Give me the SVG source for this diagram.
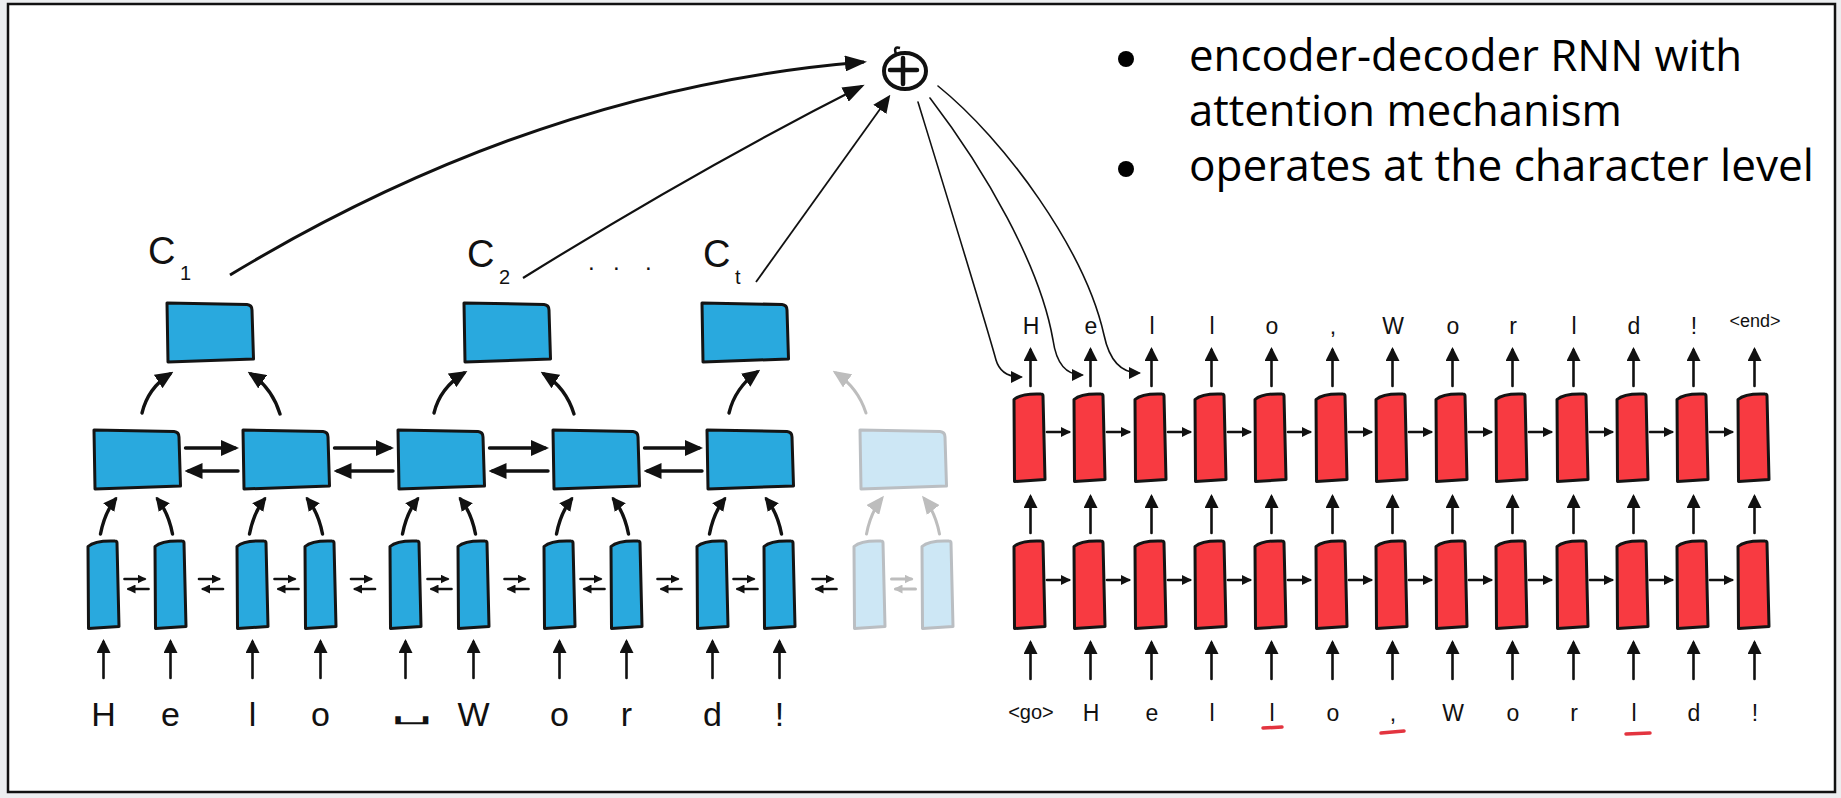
<svg xmlns="http://www.w3.org/2000/svg" width="1841" height="798" viewBox="0 0 1841 798">
<style>
.enc{fill:#29a9de;stroke:#141414;stroke-width:3;stroke-linejoin:round}
.dec{fill:#f83a41;stroke:#141414;stroke-width:3;stroke-linejoin:round}
.fade{fill:#cde7f5;stroke:#babec2;stroke-width:3;stroke-linejoin:round}
.a{fill:none;stroke:#111;stroke-width:2.6;stroke-linecap:round}
.ab{fill:none;stroke:#111;stroke-width:3.4;stroke-linecap:round}
.ag{fill:none;stroke:#bdbdbd;stroke-width:3;stroke-linecap:round}
.thin{fill:none;stroke:#111;stroke-width:1.6;stroke-linecap:round}
.hw{font-family:"Liberation Sans",Arial,sans-serif;fill:#111;text-anchor:middle}
.et{font-size:34px}
.dt{font-size:23px}
.ct{font-size:38px;text-anchor:start}
.cs{font-size:20px;text-anchor:start}
.bul{font-family:"Open Sans","Noto Sans",sans-serif;font-size:44px;fill:#000}
.ul{fill:none;stroke:#e3343f;stroke-width:3.5;stroke-linecap:round}
</style>
<defs>
  <!-- hand-drawn cell outlines -->
  <path id="tall" d="M0,6.5 C5,2 15,0.5 27,1 Q29,1 29,3 L31,86.5 L0.5,88.5 Z"/>
  <path id="wide" d="M0,0 L80,1.5 Q85,2 85,7 L86.5,56 L1,59 Z"/>
  <!-- arrowheads -->
  <marker id="mM" viewBox="0 0 14 14" refX="11" refY="7" markerWidth="14" markerHeight="14" markerUnits="userSpaceOnUse" orient="auto"><path d="M0,0 L14,7 L0,14 Z" fill="#111"/></marker>
  <marker id="mB" viewBox="0 0 18 16" refX="14" refY="8" markerWidth="18" markerHeight="16" markerUnits="userSpaceOnUse" orient="auto"><path d="M0,0 L18,8 L0,16 Z" fill="#111"/></marker>
  <marker id="mBg" viewBox="0 0 18 16" refX="14" refY="8" markerWidth="18" markerHeight="16" markerUnits="userSpaceOnUse" orient="auto"><path d="M0,0 L18,8 L0,16 Z" fill="#bdbdbd"/></marker>
  <marker id="mS" viewBox="0 0 9 9" refX="7" refY="4.5" markerWidth="9" markerHeight="9" markerUnits="userSpaceOnUse" orient="auto"><path d="M0,0 L9,4.5 L0,9 Z" fill="#111"/></marker>
  <marker id="mSg" viewBox="0 0 9 9" refX="7" refY="4.5" markerWidth="9" markerHeight="9" markerUnits="userSpaceOnUse" orient="auto"><path d="M0,0 L9,4.5 L0,9 Z" fill="#bdbdbd"/></marker>
  <marker id="mR" viewBox="0 0 10 10" refX="8" refY="5" markerWidth="10" markerHeight="10" markerUnits="userSpaceOnUse" orient="auto"><path d="M0,0 L10,5 L0,10 Z" fill="#111"/></marker>
  <marker id="mT" viewBox="0 0 12 12" refX="10" refY="6" markerWidth="12" markerHeight="12" markerUnits="userSpaceOnUse" orient="auto"><path d="M0,0 L12,6 L0,12 Z" fill="#111"/></marker>
  <marker id="mC" viewBox="0 0 22 16" refX="19" refY="8" markerWidth="22" markerHeight="16" markerUnits="userSpaceOnUse" orient="auto"><path d="M0,0 L22,8 L0,16 Z" fill="#111"/></marker>
  <!-- reusable arrows -->
  <path id="up" class="a" d="M0,36 V0" marker-end="url(#mM)"/>
  <path id="rt" class="a" d="M0,0 H22" marker-end="url(#mR)"/>
  <g id="sw"><path class="a" d="M-12,-5 H8" marker-end="url(#mS)"/><path class="a" d="M12,5 H-8" marker-end="url(#mS)"/></g>
  <g id="swg"><path class="ag" d="M-12,-5 H8" marker-end="url(#mSg)"/><path class="ag" d="M12,5 H-8" marker-end="url(#mSg)"/></g>
</defs>

<rect width="1841" height="798" fill="#eceef0"/>
<rect x="8" y="4" width="1827" height="788" fill="#fff" stroke="#111" stroke-width="2.5"/>

<!-- bullet text -->
<g id="notes">
  <circle cx="1126" cy="59" r="8" fill="#000"/>
  <circle cx="1126" cy="169" r="8" fill="#000"/>
  <text class="bul" x="1189" y="71" textLength="553" lengthAdjust="spacingAndGlyphs">encoder-decoder RNN with</text>
  <text class="bul" x="1189" y="126" textLength="433" lengthAdjust="spacingAndGlyphs">attention mechanism</text>
  <text class="bul" x="1189" y="181" textLength="625" lengthAdjust="spacingAndGlyphs">operates at the character level</text>
</g>

<!-- attention sum node -->
<g id="sum">
  <ellipse cx="905" cy="71" rx="21" ry="18" fill="#fff" stroke="#111" stroke-width="4"/>
  <path d="M890,70 H917 M903,58 V84" stroke="#111" stroke-width="4.5" stroke-linecap="round"/>
  <path d="M896,54 Q893,46 900,48" fill="none" stroke="#111" stroke-width="2.5"/>
</g>

<!-- encoder input layer -->
<g id="enc-in-1"><use href="#tall" class="enc" x="88" y="540"/></g>
<g id="enc-in-2"><use href="#tall" class="enc" x="155" y="540"/></g>
<g id="enc-in-3"><use href="#tall" class="enc" x="237" y="540"/></g>
<g id="enc-in-4"><use href="#tall" class="enc" x="305" y="540"/></g>
<g id="enc-in-5"><use href="#tall" class="enc" x="390" y="540"/></g>
<g id="enc-in-6"><use href="#tall" class="enc" x="458" y="540"/></g>
<g id="enc-in-7"><use href="#tall" class="enc" x="544" y="540"/></g>
<g id="enc-in-8"><use href="#tall" class="enc" x="611" y="540"/></g>
<g id="enc-in-9"><use href="#tall" class="enc" x="697" y="540"/></g>
<g id="enc-in-10"><use href="#tall" class="enc" x="764" y="540"/></g>
<g id="enc-in-11"><use href="#tall" class="fade" x="854" y="540"/></g>
<g id="enc-in-12"><use href="#tall" class="fade" x="922" y="540"/></g>

<!-- encoder middle layer -->
<g id="enc-mid-1"><use href="#wide" class="enc" x="94" y="430"/></g>
<g id="enc-mid-2"><use href="#wide" class="enc" x="243" y="430"/></g>
<g id="enc-mid-3"><use href="#wide" class="enc" x="398" y="430"/></g>
<g id="enc-mid-4"><use href="#wide" class="enc" x="553" y="430"/></g>
<g id="enc-mid-5"><use href="#wide" class="enc" x="707" y="430"/></g>
<g id="enc-mid-6"><use href="#wide" class="fade" x="860" y="430"/></g>

<!-- encoder top layer -->
<g id="enc-top-1"><use href="#wide" class="enc" x="167" y="303"/></g>
<g id="enc-top-2"><use href="#wide" class="enc" x="464" y="303"/></g>
<g id="enc-top-3"><use href="#wide" class="enc" x="702" y="303"/></g>

<!-- decoder layers -->
<g id="dec-hi-1"><use href="#tall" class="dec" x="1014" y="393"/></g>
<g id="dec-hi-2"><use href="#tall" class="dec" x="1074" y="393"/></g>
<g id="dec-hi-3"><use href="#tall" class="dec" x="1135" y="393"/></g>
<g id="dec-hi-4"><use href="#tall" class="dec" x="1195" y="393"/></g>
<g id="dec-hi-5"><use href="#tall" class="dec" x="1255" y="393"/></g>
<g id="dec-hi-6"><use href="#tall" class="dec" x="1316" y="393"/></g>
<g id="dec-hi-7"><use href="#tall" class="dec" x="1376" y="393"/></g>
<g id="dec-hi-8"><use href="#tall" class="dec" x="1436" y="393"/></g>
<g id="dec-hi-9"><use href="#tall" class="dec" x="1496" y="393"/></g>
<g id="dec-hi-10"><use href="#tall" class="dec" x="1557" y="393"/></g>
<g id="dec-hi-11"><use href="#tall" class="dec" x="1617" y="393"/></g>
<g id="dec-hi-12"><use href="#tall" class="dec" x="1677" y="393"/></g>
<g id="dec-hi-13"><use href="#tall" class="dec" x="1738" y="393"/></g>

<g id="dec-lo-1"><use href="#tall" class="dec" x="1014" y="540"/></g>
<g id="dec-lo-2"><use href="#tall" class="dec" x="1074" y="540"/></g>
<g id="dec-lo-3"><use href="#tall" class="dec" x="1135" y="540"/></g>
<g id="dec-lo-4"><use href="#tall" class="dec" x="1195" y="540"/></g>
<g id="dec-lo-5"><use href="#tall" class="dec" x="1255" y="540"/></g>
<g id="dec-lo-6"><use href="#tall" class="dec" x="1316" y="540"/></g>
<g id="dec-lo-7"><use href="#tall" class="dec" x="1376" y="540"/></g>
<g id="dec-lo-8"><use href="#tall" class="dec" x="1436" y="540"/></g>
<g id="dec-lo-9"><use href="#tall" class="dec" x="1496" y="540"/></g>
<g id="dec-lo-10"><use href="#tall" class="dec" x="1557" y="540"/></g>
<g id="dec-lo-11"><use href="#tall" class="dec" x="1617" y="540"/></g>
<g id="dec-lo-12"><use href="#tall" class="dec" x="1677" y="540"/></g>
<g id="dec-lo-13"><use href="#tall" class="dec" x="1738" y="540"/></g>

<!-- connectors -->
<g id="connectors">
  <!-- encoder inputs -->
  <use href="#up" x="103.5" y="642"/><use href="#up" x="170.5" y="642"/>
  <use href="#up" x="252.5" y="642"/><use href="#up" x="320.5" y="642"/>
  <use href="#up" x="405.5" y="642"/><use href="#up" x="473.5" y="642"/>
  <use href="#up" x="559.5" y="642"/><use href="#up" x="626.5" y="642"/>
  <use href="#up" x="712.5" y="642"/><use href="#up" x="779.5" y="642"/>

  <!-- bidirectional links, input layer -->
  <use href="#sw" x="136.5" y="584"/><use href="#sw" x="211" y="584"/>
  <use href="#sw" x="286.5" y="584"/><use href="#sw" x="363" y="584"/>
  <use href="#sw" x="439.5" y="584"/><use href="#sw" x="516.5" y="584"/>
  <use href="#sw" x="592.5" y="584"/><use href="#sw" x="669.5" y="584"/>
  <use href="#sw" x="745.5" y="584"/><use href="#sw" x="824.5" y="584"/>
  <use href="#swg" x="903.5" y="584"/>

  <!-- input layer to middle layer -->
  <path class="ab" d="M100.5,534 Q104.5,513 115.5,499" marker-end="url(#mM)"/>
  <path class="ab" d="M172.5,534 Q168.5,513 157.5,499" marker-end="url(#mM)"/>
  <path class="ab" d="M249.5,534 Q253.5,513 264.5,499" marker-end="url(#mM)"/>
  <path class="ab" d="M322.5,534 Q318.5,513 307.5,499" marker-end="url(#mM)"/>
  <path class="ab" d="M402.5,534 Q406.5,513 417.5,499" marker-end="url(#mM)"/>
  <path class="ab" d="M475.5,534 Q471.5,513 460.5,499" marker-end="url(#mM)"/>
  <path class="ab" d="M556.5,534 Q560.5,513 571.5,499" marker-end="url(#mM)"/>
  <path class="ab" d="M628.5,534 Q624.5,513 613.5,499" marker-end="url(#mM)"/>
  <path class="ab" d="M709.5,534 Q713.5,513 724.5,499" marker-end="url(#mM)"/>
  <path class="ab" d="M781.5,534 Q777.5,513 766.5,499" marker-end="url(#mM)"/>
  <path class="ag" d="M866.5,534 Q870.5,513 881.5,499" marker-end="url(#mBg)"/>
  <path class="ag" d="M939.5,534 Q935.5,513 924.5,499" marker-end="url(#mBg)"/>

  <!-- bidirectional links, middle layer -->
  <path class="ab" d="M185.5,448 H235" marker-end="url(#mB)"/>
  <path class="ab" d="M238,471 H188.5" marker-end="url(#mB)"/>
  <path class="ab" d="M334.5,448 H390" marker-end="url(#mB)"/>
  <path class="ab" d="M393,471 H337.5" marker-end="url(#mB)"/>
  <path class="ab" d="M489.5,448 H545" marker-end="url(#mB)"/>
  <path class="ab" d="M548,471 H492.5" marker-end="url(#mB)"/>
  <path class="ab" d="M644.5,448 H699" marker-end="url(#mB)"/>
  <path class="ab" d="M702,471 H647.5" marker-end="url(#mB)"/>

  <!-- middle layer to top layer -->
  <path class="ab" d="M142,413 Q148,388 170,374" marker-end="url(#mB)"/>
  <path class="ab" d="M280,414 Q272,388 251,374" marker-end="url(#mB)"/>
  <path class="ab" d="M434,413 Q440,388 464,373" marker-end="url(#mB)"/>
  <path class="ab" d="M574,414 Q566,388 544,374" marker-end="url(#mB)"/>
  <path class="ab" d="M729,413 Q735,388 757,372" marker-end="url(#mB)"/>
  <path class="ag" d="M866,413 Q858,388 836,373" marker-end="url(#mBg)"/>

  <!-- context vectors to the sum -->
  <path fill="none" stroke="#111" stroke-width="3" d="M230,275 Q540,88 864,62" marker-end="url(#mC)"/>
  <path fill="none" stroke="#111" stroke-width="2.2" d="M523,278 Q700,168 862,86" marker-end="url(#mC)"/>
  <path fill="none" stroke="#111" stroke-width="1.8" d="M756,282 L888,98" marker-end="url(#mB)"/>

  <!-- sum to decoder -->
  <path class="thin" d="M918,102 C945,190 985,320 996,360 Q1001,377 1021,377" marker-end="url(#mT)"/>
  <path class="thin" d="M930,98 C985,170 1040,265 1053,340 Q1058,375 1082,375" marker-end="url(#mT)"/>
  <path class="thin" d="M938,86 C1005,140 1085,250 1104,335 Q1112,373 1139,373" marker-end="url(#mT)"/>

  <!-- decoder inputs -->
  <use href="#up" x="1030.5" y="643"/><use href="#up" x="1090.5" y="643"/>
  <use href="#up" x="1151.5" y="643"/><use href="#up" x="1211.5" y="643"/>
  <use href="#up" x="1271.5" y="643"/><use href="#up" x="1332.5" y="643"/>
  <use href="#up" x="1392.5" y="643"/><use href="#up" x="1452.5" y="643"/>
  <use href="#up" x="1512.5" y="643"/><use href="#up" x="1573.5" y="643"/>
  <use href="#up" x="1633.5" y="643"/><use href="#up" x="1693.5" y="643"/>
  <use href="#up" x="1754.5" y="643"/>

  <!-- decoder lower to upper layer -->
  <use href="#up" x="1030.5" y="497"/><use href="#up" x="1090.5" y="497"/>
  <use href="#up" x="1151.5" y="497"/><use href="#up" x="1211.5" y="497"/>
  <use href="#up" x="1271.5" y="497"/><use href="#up" x="1332.5" y="497"/>
  <use href="#up" x="1392.5" y="497"/><use href="#up" x="1452.5" y="497"/>
  <use href="#up" x="1512.5" y="497"/><use href="#up" x="1573.5" y="497"/>
  <use href="#up" x="1633.5" y="497"/><use href="#up" x="1693.5" y="497"/>
  <use href="#up" x="1754.5" y="497"/>

  <!-- decoder outputs -->
  <use href="#up" x="1030.5" y="350"/><use href="#up" x="1090.5" y="350"/>
  <use href="#up" x="1151.5" y="350"/><use href="#up" x="1211.5" y="350"/>
  <use href="#up" x="1271.5" y="350"/><use href="#up" x="1332.5" y="350"/>
  <use href="#up" x="1392.5" y="350"/><use href="#up" x="1452.5" y="350"/>
  <use href="#up" x="1512.5" y="350"/><use href="#up" x="1573.5" y="350"/>
  <use href="#up" x="1633.5" y="350"/><use href="#up" x="1693.5" y="350"/>
  <use href="#up" x="1754.5" y="350"/>

  <!-- decoder recurrence, upper row -->
  <use href="#rt" x="1047" y="432"/><use href="#rt" x="1107" y="432"/>
  <use href="#rt" x="1168" y="432"/><use href="#rt" x="1228" y="432"/>
  <use href="#rt" x="1288" y="432"/><use href="#rt" x="1349" y="432"/>
  <use href="#rt" x="1409" y="432"/><use href="#rt" x="1469" y="432"/>
  <use href="#rt" x="1529" y="432"/><use href="#rt" x="1590" y="432"/>
  <use href="#rt" x="1650" y="432"/><use href="#rt" x="1710" y="432"/>
  <!-- decoder recurrence, lower row -->
  <use href="#rt" x="1047" y="580"/><use href="#rt" x="1107" y="580"/>
  <use href="#rt" x="1168" y="580"/><use href="#rt" x="1228" y="580"/>
  <use href="#rt" x="1288" y="580"/><use href="#rt" x="1349" y="580"/>
  <use href="#rt" x="1409" y="580"/><use href="#rt" x="1469" y="580"/>
  <use href="#rt" x="1529" y="580"/><use href="#rt" x="1590" y="580"/>
  <use href="#rt" x="1650" y="580"/><use href="#rt" x="1710" y="580"/>
</g>

<!-- context labels -->
<g id="ctx-labels" class="hw">
  <text class="ct" x="148" y="264">C</text><text class="cs" x="180" y="280">1</text>
  <text class="ct" x="467" y="267">C</text><text class="cs" x="499" y="284">2</text>
  <text class="ct" x="588 613 645" y="270" style="font-size:24px">...</text>
  <text class="ct" x="703" y="267">C</text><text class="cs" x="735" y="284">t</text>
</g>

<!-- encoder input characters -->
<g id="enc-chars" class="hw et">
  <text x="103.5" y="726">H</text>
  <text x="170.5" y="726">e</text>
  <text x="252.5" y="726">l</text>
  <text x="320.5" y="726">o</text>
  <text x="390" y="719" text-anchor="start" textLength="42" lengthAdjust="spacingAndGlyphs" style="font-family:'DejaVu Sans',sans-serif;font-size:24px">␣</text>
  <text x="473.5" y="726">W</text>
  <text x="559.5" y="726">o</text>
  <text x="626.5" y="726">r</text>
  <text x="712.5" y="726">d</text>
  <text x="779.5" y="726">!</text>
</g>

<!-- decoder output characters -->
<g id="dec-out" class="hw dt">
  <text x="1031" y="334">H</text>
  <text x="1091" y="334">e</text>
  <text x="1152" y="334">l</text>
  <text x="1212" y="334">l</text>
  <text x="1272" y="334">o</text>
  <text x="1333" y="334">,</text>
  <text x="1393" y="334">W</text>
  <text x="1453" y="334">o</text>
  <text x="1513" y="334">r</text>
  <text x="1574" y="334">l</text>
  <text x="1634" y="334">d</text>
  <text x="1694" y="334">!</text>
  <text x="1755" y="327" style="font-size:18px">&lt;end&gt;</text>
</g>

<!-- decoder input characters -->
<g id="dec-in" class="hw dt">
  <text x="1031" y="719" style="font-size:20px">&lt;go&gt;</text>
  <text x="1091" y="721">H</text>
  <text x="1152" y="721">e</text>
  <text x="1212" y="721">l</text>
  <text x="1272" y="721">l</text>
  <text x="1333" y="721">o</text>
  <text x="1393" y="721">,</text>
  <text x="1453" y="721">W</text>
  <text x="1513" y="721">o</text>
  <text x="1574" y="721">r</text>
  <text x="1634" y="721">l</text>
  <text x="1694" y="721">d</text>
  <text x="1755" y="721">!</text>
  <path class="ul" d="M1263,728 L1282,727 M1381,733 L1404,731 M1626,734 L1650,733"/>
</g>
</svg>
